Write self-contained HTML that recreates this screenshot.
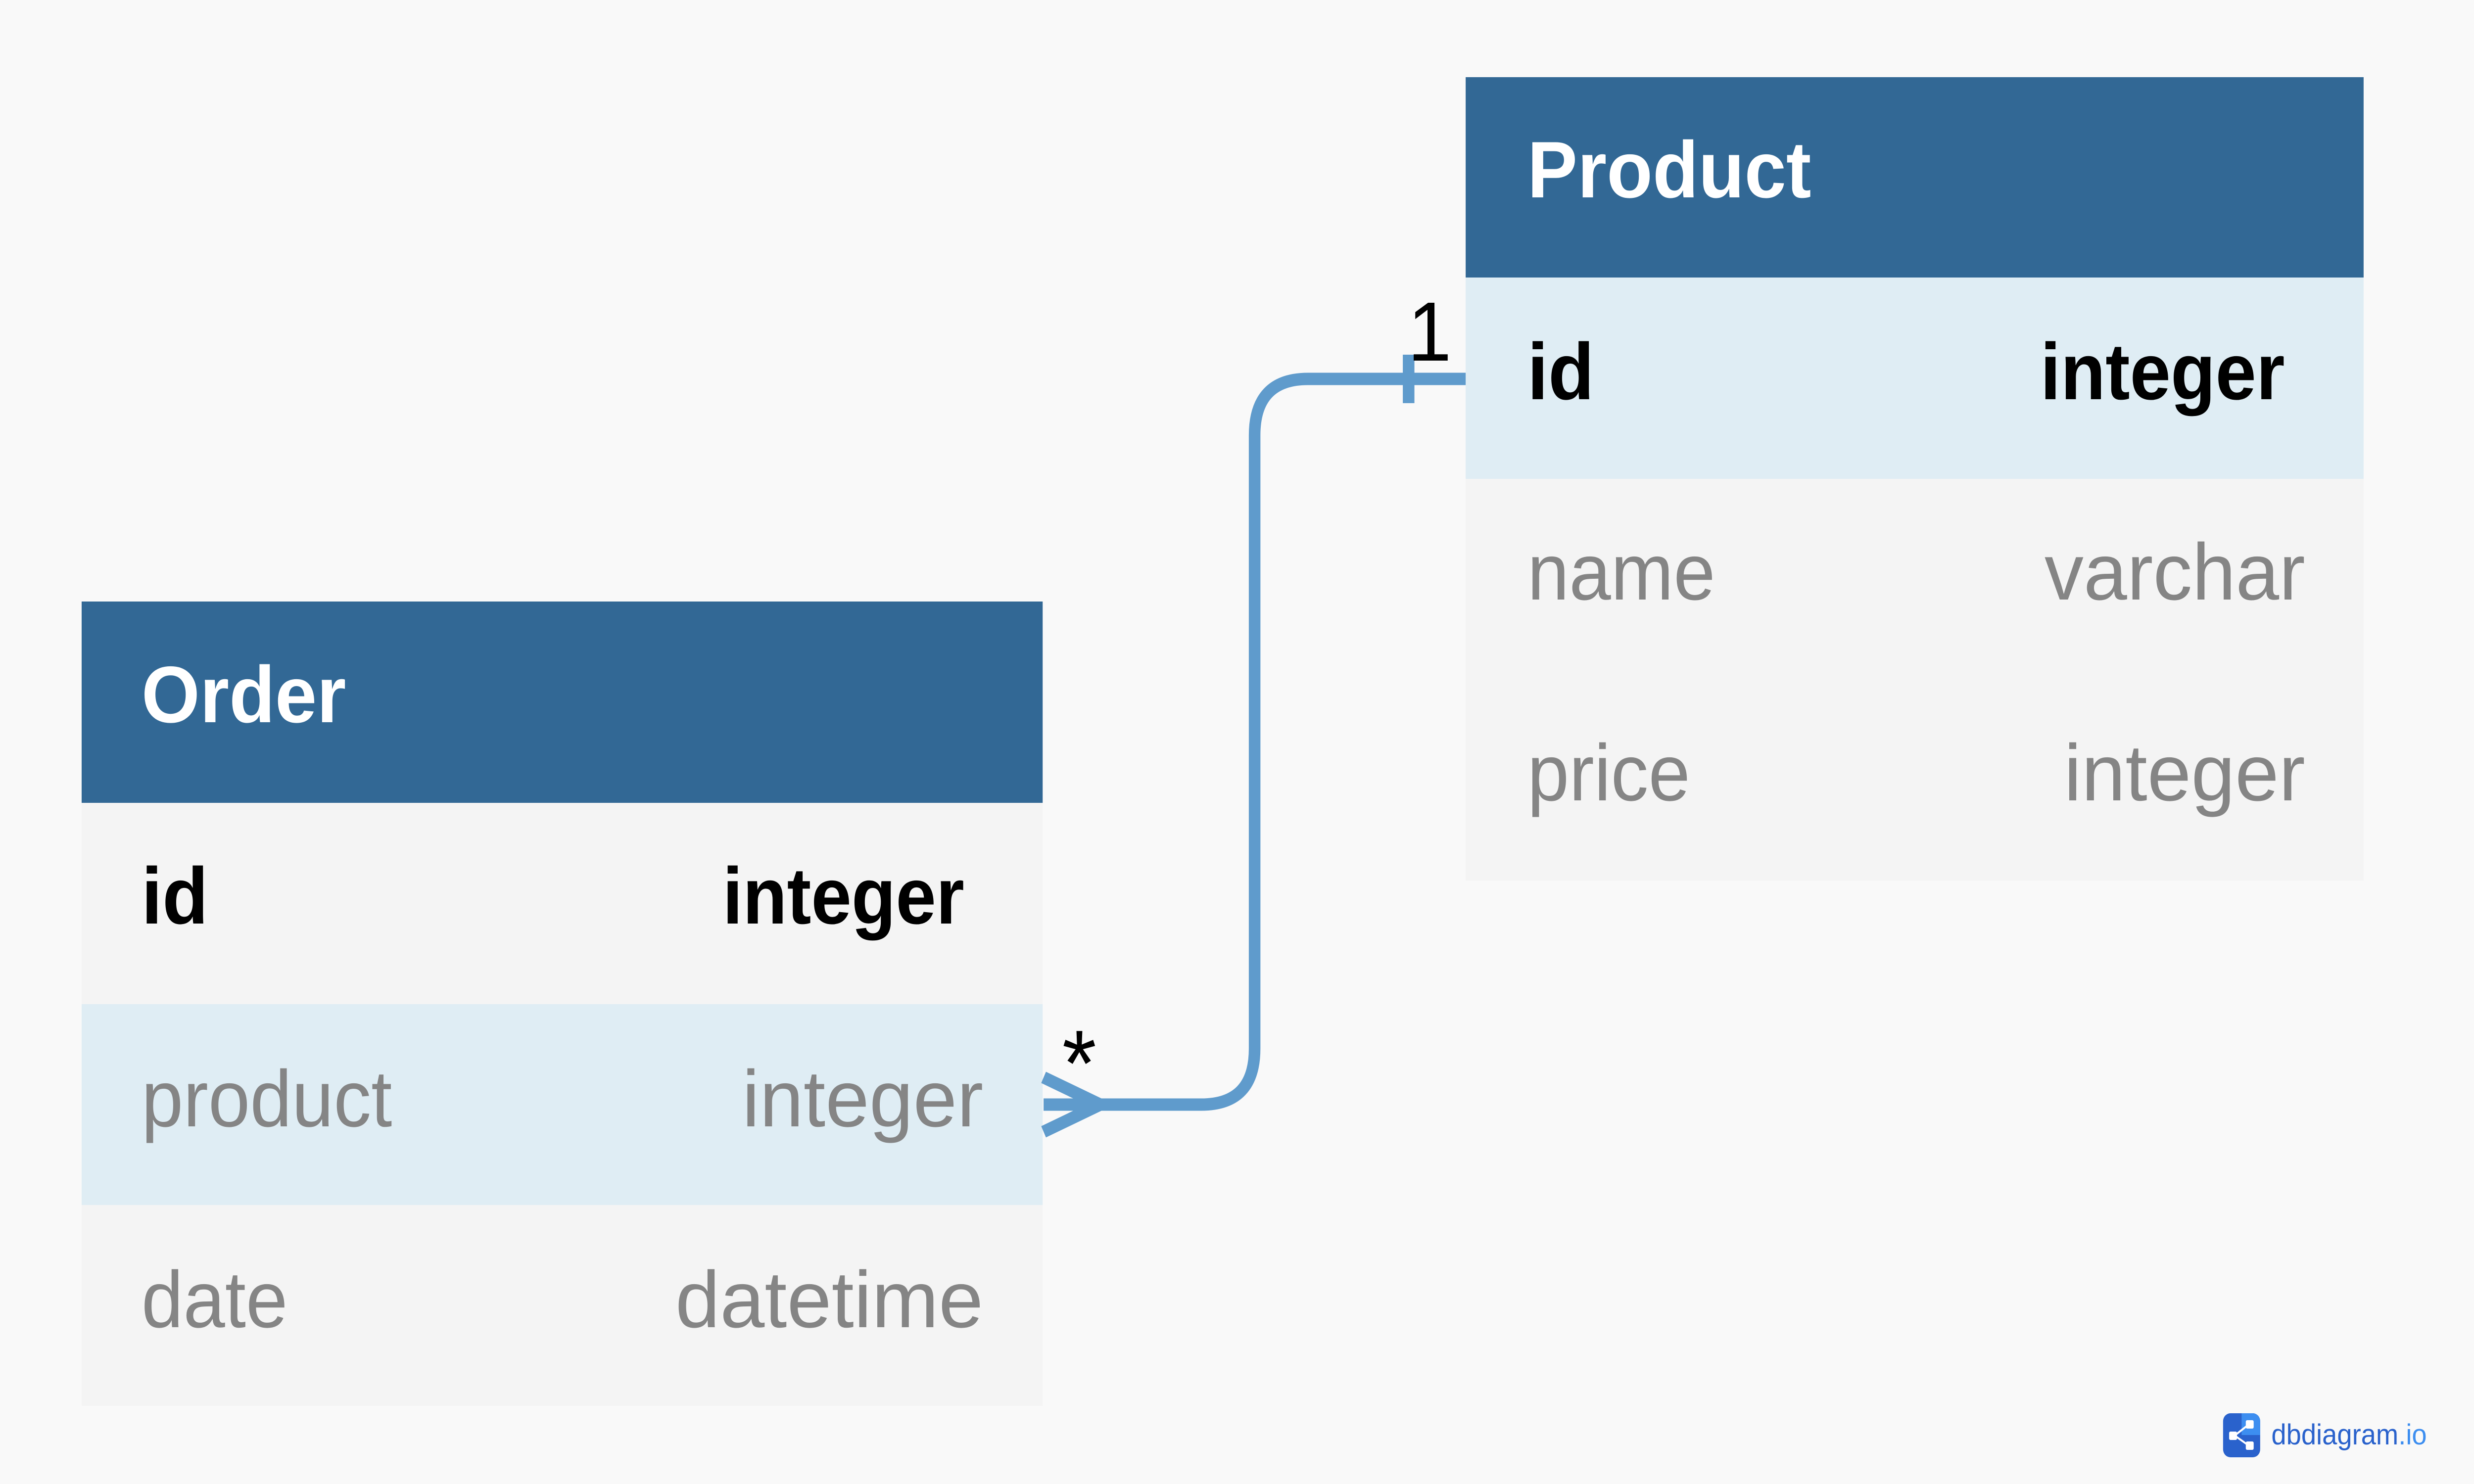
<!DOCTYPE html>
<html><head><meta charset="utf-8"><style>
html,body{margin:0;padding:0;background:#f9f9f9;width:100%;height:100%;overflow:hidden;}
svg{display:block;width:100vw;height:100vh;}
</style></head><body>
<svg viewBox="0 0 5334 3000" preserveAspectRatio="none" xmlns="http://www.w3.org/2000/svg">
<rect width="5334" height="3000" fill="#f9f9f9"/>
<rect x="176" y="1216" width="2072" height="407" fill="#326895"/>
<rect x="176" y="1623" width="2072" height="407" fill="#f4f4f4"/>
<rect x="176" y="2030" width="2072" height="406" fill="#dfedf4"/>
<rect x="176" y="2436" width="2072" height="406" fill="#f4f4f4"/>
<g font-family="Liberation Sans, sans-serif" font-size="162">
<text x="305" y="1460" fill="#fff" font-weight="bold">Order</text>
<text x="305" y="1867" fill="#000" font-weight="bold">id</text>
<text x="2079" y="1867" fill="#000" font-weight="bold" text-anchor="end" textLength="521" lengthAdjust="spacingAndGlyphs">integer</text>
<text x="305" y="2277" fill="#858585">product</text>
<text x="2120" y="2277" fill="#858585" text-anchor="end" textLength="520" lengthAdjust="spacingAndGlyphs">integer</text>
<text x="305" y="2683" fill="#858585">date</text>
<text x="2120" y="2683" fill="#858585" text-anchor="end" textLength="664" lengthAdjust="spacingAndGlyphs">datetime</text>
</g>
<rect x="3160" y="156" width="1936" height="405" fill="#326895"/>
<rect x="3160" y="561" width="1936" height="407" fill="#dfedf4"/>
<rect x="3160" y="968" width="1936" height="406" fill="#f4f4f4"/>
<rect x="3160" y="1374" width="1936" height="406" fill="#f4f4f4"/>
<g font-family="Liberation Sans, sans-serif" font-size="162">
<text x="3293" y="399" fill="#fff" font-weight="bold">Product</text>
<text x="3293" y="807" fill="#000" font-weight="bold">id</text>
<text x="4926" y="807" fill="#000" font-weight="bold" text-anchor="end" textLength="527" lengthAdjust="spacingAndGlyphs">integer</text>
<text x="3293" y="1212" fill="#858585">name</text>
<text x="4970" y="1212" fill="#858585" text-anchor="end" textLength="562" lengthAdjust="spacingAndGlyphs">varchar</text>
<text x="3293" y="1618" fill="#858585">price</text>
<text x="4970" y="1618" fill="#858585" text-anchor="end" textLength="520" lengthAdjust="spacingAndGlyphs">integer</text>
</g>
<g fill="none" stroke="#5f9bcc" stroke-width="25">
<path d="M2250 2233 L2590 2233 Q2705 2233 2705 2120 L2705 880 Q2705 766 2820 766 L3160 766"/>
<path d="M2250 2178 L2372 2233 L2250 2288"/>
<line x1="3037" y1="717" x2="3037" y2="815"/>
</g>
<g font-family="Liberation Sans, sans-serif" fill="#000">
<text x="3035" y="729" font-size="170">1</text>
<text x="2290" y="2215" font-size="190">*</text>
</g>
<rect x="4793" y="2857" width="80" height="89" rx="16" fill="#2a62cc"/>
<path d="M4833 2857 h24 a16 16 0 0 1 16 16 v28 h-40 z" fill="#3d8ef0"/>
<g fill="#fff"><rect x="4806" y="2894" width="17" height="17" rx="3"/><rect x="4842" y="2871" width="17" height="17" rx="3"/><rect x="4842" y="2914" width="17" height="17" rx="3"/></g>
<path d="M4818 2902 L4848 2880 M4818 2902 L4848 2922" stroke="#fff" stroke-width="4"/>
<text x="4897" y="2920" font-family="Liberation Sans, sans-serif" font-size="58" fill="#2a62cc">dbdiagram<tspan fill="#3d8ef0">.io</tspan></text>
</svg>
</body></html>
